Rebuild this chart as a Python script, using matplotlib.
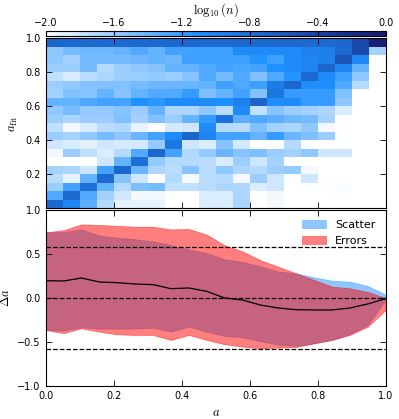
import numpy as np
import matplotlib
matplotlib.use("Agg")
import matplotlib.pyplot as plt
from matplotlib.colors import LinearSegmentedColormap

plt.rcParams["mathtext.fontset"] = "cm"
plt.rcParams["xtick.direction"] = "in"
plt.rcParams["ytick.direction"] = "in"
plt.rcParams["xtick.top"] = True
plt.rcParams["ytick.right"] = True
plt.rcParams["font.size"] = 7

N = np.nan

# bin edges of the true parameter a and of the fitted a_fit
a_edges = np.linspace(0.0, 1.0, 21)
afit_edges = np.linspace(0.0, 1.0, 21)

# log10(n) per cell, rows listed from a_fit = 0.95-1.0 (top) down to 0.0-0.05
log_n_rows = [
    [-0.72, -0.75, -0.75, -0.74, -0.75, -0.74, -0.75, -0.74, -0.75, -0.75, -0.75, -0.74, -0.75, -0.75, -0.74, -0.75, -0.74, -0.72, -0.45, -0.05],
    [-1.55, -1.45, -1.42, -1.42, -1.38, -1.3, -1.38, -1.25, -1.25, -1.22, -1.22, -1.05, -1.05, -1.05, -1.05, -0.95, -0.95, -0.75, -0.45, -1.63],
    [-1.55, -1.63, -1.45, -1.45, -1.45, -1.42, -1.38, -1.42, -1.22, -1.22, -1.22, -1.22, -1.12, -1.22, -1.05, -1.0, -0.95, -0.55, -1.02, N],
    [-1.6, -1.6, -1.45, -1.7, -1.6, -1.55, -1.52, -1.38, -1.38, -1.3, -1.25, -1.28, -1.25, -1.1, -1.05, -1.0, -0.7, -1.0, -1.38, N],
    [-1.75, -1.83, -1.72, -1.67, -1.6, -1.6, -1.57, -1.6, -1.52, -1.3, -1.45, -1.3, -1.5, -1.3, -1.12, -0.75, -1.05, -1.22, -1.55, N],
    [-1.6, -1.55, -1.52, -1.5, -1.5, -1.45, -1.42, -1.4, -1.4, -1.38, -1.22, -1.3, -1.22, -0.92, -0.72, -1.08, -1.08, -1.3, -1.7, N],
    [-1.63, -1.5, -1.52, -1.38, -1.52, -1.38, -1.3, -1.3, -1.18, -1.48, -1.38, -1.25, -1.5, -0.85, -1.2, -1.2, -1.2, -1.5, N, N],
    [-1.38, -1.38, -1.3, -1.25, -1.25, -1.1, -1.15, -1.05, -1.05, -1.05, -1.1, -0.95, -0.68, -1.08, -1.05, -1.2, -1.2, -1.55, N, N],
    [-1.55, -1.45, -1.57, -1.57, -1.52, -1.6, -1.38, -1.67, -1.67, -1.55, -1.72, -1.05, -1.75, -1.52, -1.6, -1.63, -1.67, -1.85, N, N],
    [-1.6, -1.67, -1.6, -1.6, -1.5, -1.63, -1.5, -1.6, -1.38, -1.18, -0.82, -1.35, -1.3, -1.35, -1.42, -1.45, -1.63, N, N, N],
    [-1.75, -1.95, -1.85, -1.72, -1.68, -1.9, N, -1.82, -1.8, -1.05, -1.7, -1.72, -1.5, -1.63, -1.67, -1.55, -1.95, N, N, N],
    [-1.6, -1.63, -1.55, -1.45, -1.55, -1.4, -1.25, -1.05, -0.7, -1.0, -1.25, -1.25, -1.38, -1.2, -1.4, -1.48, -1.6, -1.98, N, N],
    [-1.8, -1.85, -1.88, -1.8, -1.83, -1.82, -1.57, -0.85, -1.8, -1.85, -1.52, -1.82, N, N, -1.7, N, N, N, N, N],
    [-1.95, -1.6, -1.75, -1.85, -1.7, -1.3, -0.72, -1.25, -1.68, -1.57, -1.4, -1.52, -1.48, -1.6, -1.63, -1.55, -1.8, -1.8, N, N],
    [N, N, N, -1.8, -1.38, -0.8, -1.57, -1.7, -1.7, -1.72, -1.85, -1.6, -1.8, -1.63, N, N, N, N, N, N],
    [-1.63, -1.67, -1.8, -1.25, -0.7, -1.4, -1.67, -1.72, -1.52, -1.72, -1.55, -1.67, -1.7, -1.6, -1.57, -1.95, N, N, N, N],
    [-1.72, -1.9, -1.38, -0.75, -1.52, -1.8, N, -1.7, -1.95, -1.72, -1.7, -1.95, -1.6, -1.8, -1.99, -1.8, N, N, N, N],
    [-1.6, -1.25, -0.82, -1.38, -1.7, -1.48, -1.45, -1.75, -1.75, -1.72, -1.67, -1.67, -1.85, -1.8, N, -1.98, -1.98, -1.97, N, N],
    [-1.3, -0.75, -1.3, -1.63, -1.8, -1.95, -1.95, N, N, -1.85, -1.85, -1.67, N, -1.95, N, N, N, -1.98, N, N],
    [-0.75, -1.0, -1.35, -1.7, -1.9, -1.9, -1.9, N, N, -1.85, -1.85, -1.65, N, -1.95, N, N, N, N, N, N],
]

# residuals a_fit - a in the lower panel
a_grid = np.linspace(0.0, 1.0, 20)
delta_mean = [0.197, 0.193, 0.227, 0.182, 0.174, 0.159, 0.152, 0.106, 0.114, 0.076,
              0.0, -0.023, -0.08, -0.114, -0.133, -0.136, -0.136, -0.114, -0.068, -0.008]
scatter_hi = [0.746, 0.75, 0.78, 0.71, 0.685, 0.667, 0.644, 0.60, 0.553, 0.51,
              0.44, 0.41, 0.36, 0.30, 0.28, 0.235, 0.197, 0.185, 0.136, 0.04]
scatter_lo = [-0.364, -0.37, -0.333, -0.348, -0.348, -0.348, -0.337, -0.383, -0.326, -0.383,
              -0.43, -0.447, -0.49, -0.53, -0.545, -0.515, -0.477, -0.41, -0.307, -0.02]
errors_hi = [0.746, 0.77, 0.837, 0.83, 0.82, 0.81, 0.81, 0.78, 0.784, 0.72,
             0.60, 0.53, 0.43, 0.356, 0.28, 0.205, 0.13, 0.11, 0.07, 0.0]
errors_lo = [-0.364, -0.40, -0.345, -0.383, -0.413, -0.42, -0.42, -0.477, -0.42, -0.477,
             -0.526, -0.553, -0.572, -0.564, -0.557, -0.515, -0.477, -0.42, -0.326, -0.136]
uniform_sigma = 1.0 / np.sqrt(3.0)

cmap = LinearSegmentedColormap.from_list(
    "blues_log", [(0.0, "white"), (0.45, "dodgerblue"), (1.0, "midnightblue")]
)

fig = plt.figure(figsize=(3.99, 4.19), dpi=100)
ax_top = fig.add_axes([0.1145, 0.5029, 0.852, 0.4057])
ax_bot = fig.add_axes([0.1145, 0.0788, 0.852, 0.4200])
cax = fig.add_axes([0.1145, 0.9148, 0.852, 0.0119])

grid = np.ma.masked_invalid(np.array(log_n_rows)[::-1])
mesh = ax_top.pcolormesh(a_edges, afit_edges, grid, cmap=cmap, vmin=-2.0, vmax=0.0)
ax_top.set_xlim(0, 1)
ax_top.set_ylim(0, 1)
ax_top.set_yticks([0.0, 0.2, 0.4, 0.6, 0.8, 1.0])
ax_top.set_yticklabels(["", "0.2", "0.4", "0.6", "0.8", "1.0"])
ax_top.set_xticks([0.0, 0.2, 0.4, 0.6, 0.8, 1.0])
ax_top.set_xticklabels([])
ax_top.set_ylabel(r"$a_{\rm fit}$", fontsize=9)

cb = fig.colorbar(mesh, cax=cax, orientation="horizontal")
cb.set_ticks([-2.0, -1.6, -1.2, -0.8, -0.4, 0.0])
cax.xaxis.set_ticks_position("top")
cax.xaxis.set_label_position("top")
cax.tick_params(axis="x", direction="in", length=3, labelsize=7, pad=2)
cb.set_label(r"$\log_{10}(n)$", fontsize=9, labelpad=3)
cb.outline.set_linewidth(0.8)

ax_bot.fill_between(a_grid, scatter_lo, scatter_hi, color="dodgerblue", alpha=0.5,
                    linewidth=0.5, label="Scatter")
ax_bot.fill_between(a_grid, errors_lo, errors_hi, color="red", alpha=0.5,
                    linewidth=0.5, label="Errors")
ax_bot.plot(a_grid, delta_mean, color="black", linewidth=0.9)
for level in (-uniform_sigma, 0.0, uniform_sigma):
    ax_bot.axhline(level, color="black", linestyle="--", linewidth=0.9)

ax_bot.set_xlim(0, 1)
ax_bot.set_ylim(-1, 1)
ax_bot.set_xticks([0.0, 0.2, 0.4, 0.6, 0.8, 1.0])
ax_bot.set_yticks([-1.0, -0.5, 0.0, 0.5, 1.0])
ax_bot.set_xlabel(r"$a$", fontsize=9)
ax_bot.set_ylabel(r"$\Delta a$", fontsize=9)
ax_bot.legend(loc="upper right", frameon=False, fontsize=8, handlelength=2.2)

for ax in (ax_top, ax_bot):
    ax.tick_params(length=4, width=0.6)

fig.savefig("out.png", dpi=100)
